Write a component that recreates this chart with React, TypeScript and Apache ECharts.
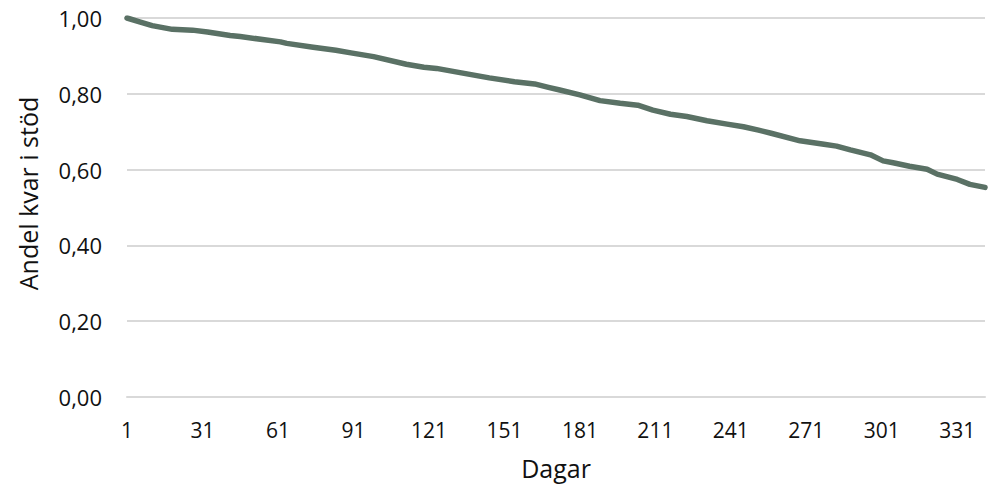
import React, { useEffect, useRef } from "react";
import * as echarts from "echarts";

const days: number[] = [1, 6, 11, 19, 27, 33, 42, 46, 62, 64.5, 75, 84, 90, 99, 112, 119, 124, 135, 145, 155, 163, 168.5, 173, 181, 189, 197, 204, 210, 217, 223.5, 231.5, 239.5, 246, 252, 257, 268.5, 278, 283, 288.5, 296.5, 301.5, 305.5, 312, 319, 323, 331, 336, 342];
const shares: number[] = [1.0, 0.99, 0.98, 0.97, 0.968, 0.963, 0.954, 0.951, 0.937, 0.933, 0.923, 0.915, 0.908, 0.898, 0.878, 0.87, 0.867, 0.854, 0.842, 0.832, 0.826, 0.817, 0.81, 0.797, 0.782, 0.775, 0.77, 0.757, 0.746, 0.74, 0.729, 0.72, 0.713, 0.704, 0.696, 0.676, 0.667, 0.662, 0.652, 0.639, 0.623, 0.618, 0.609, 0.601, 0.588, 0.574, 0.561, 0.553];
const yTicks: number[] = [0, 0.2, 0.4, 0.6, 0.8, 1.0];

const FONT = "'Open Sans', 'Noto Sans', sans-serif";

export default function App() {
  const ref = useRef<HTMLDivElement>(null);
  useEffect(() => {
    if (!ref.current) return;
    const chart = echarts.init(ref.current, null, { renderer: "svg" });
    const data = days.map((d, i) => [d, shares[i]]);
    chart.setOption({
      animation: false,
      textStyle: { fontFamily: FONT },
      grid: { left: 127, right: 4, top: 18, bottom: 89, containLabel: false },
      xAxis: {
        type: "value",
        min: 1,
        max: 342,
        interval: 30,
        name: "Dagar",
        nameLocation: "middle",
        nameGap: 58,
        nameTextStyle: { fontSize: 25, color: "#111111", fontFamily: FONT },
        axisLine: { show: true, lineStyle: { color: "#d9d9d9", width: 2 } },
        axisTick: { show: false },
        splitLine: { show: false },
        axisLabel: {
          fontSize: 21,
          color: "#111111",
          margin: 22,
          fontFamily: FONT,
          showMaxLabel: false,
          formatter: (v: number) => ((v - 1) % 30 === 0 ? String(v) : ""),
        },
      },
      yAxis: {
        type: "value",
        min: yTicks[0],
        max: yTicks[yTicks.length - 1],
        interval: 0.2,
        name: "Andel kvar i stöd",
        nameLocation: "middle",
        nameGap: 87,
        nameTextStyle: { fontSize: 25, color: "#111111", fontFamily: FONT, padding: [0, 0, 0, 28] },
        axisLine: { show: false },
        axisTick: { show: false },
        splitLine: { show: true, lineStyle: { color: "#d9d9d9", width: 2 } },
        axisLabel: {
          fontSize: 22,
          color: "#111111",
          margin: 25,
          fontFamily: FONT,
          formatter: (v: number) => v.toFixed(2).replace(".", ","),
        },
      },
      series: [
        {
          type: "line",
          data,
          showSymbol: false,
          symbol: "none",
          lineStyle: { color: "#5a7165", width: 5.5, cap: "round", join: "round" },
        },
      ],
    });
    return () => chart.dispose();
  }, []);
  return <div ref={ref} style={{ width: 989, height: 486, position: "absolute", left: 0, top: 0 }} />;
}
